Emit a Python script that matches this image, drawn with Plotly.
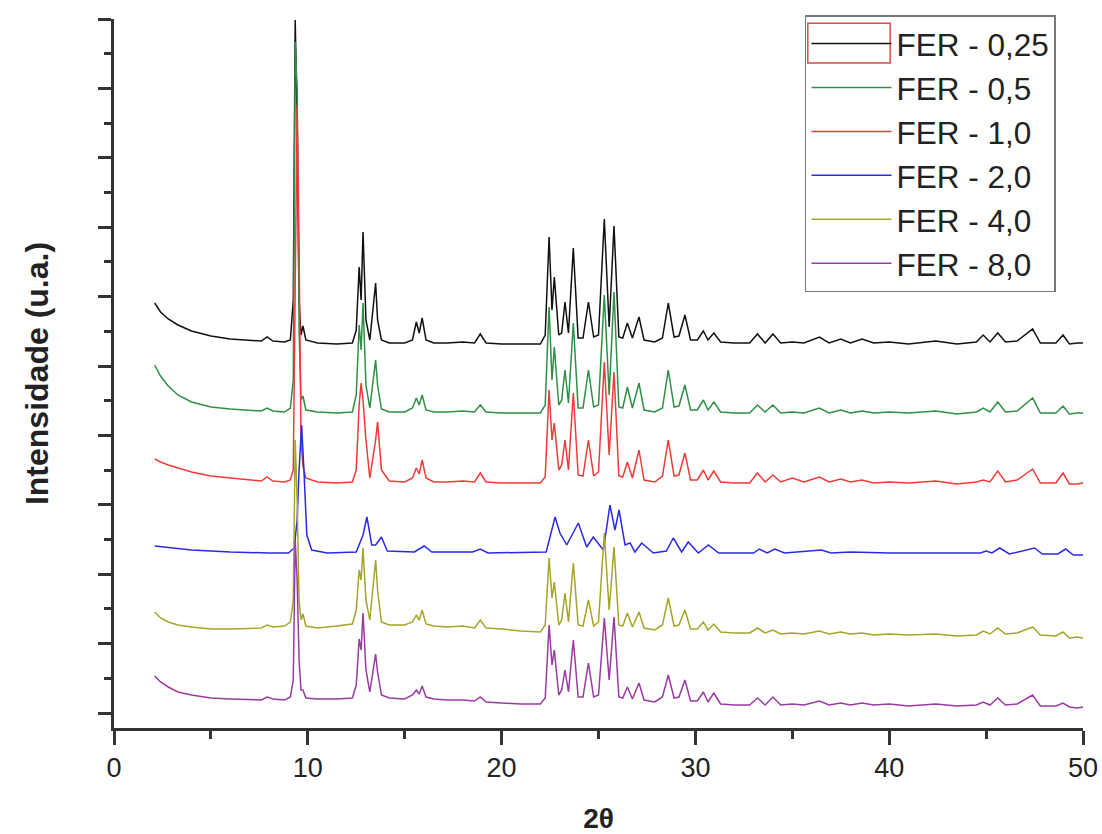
import plotly.graph_objects as go

# ---------------- data ----------------
series_names = ["FER - 0,25", "FER - 0,5", "FER - 1,0", "FER - 2,0", "FER - 4,0", "FER - 8,0"]

# shared 2θ grid for FER-0,25 / 0,5 / 1,0 / 4,0 / 8,0
two_theta = [
    2.1, 2.4, 2.8, 3.3, 4.0, 5.0, 6.0, 7.0, 7.6, 7.9, 8.2, 8.8, 9.1, 9.25, 9.35, 9.45, 9.55, 9.65, 9.75, 9.9,
    10.5, 11.5, 12.3, 12.5, 12.65, 12.75, 12.85, 13.0, 13.2, 13.5, 13.6, 13.8, 14.2, 15.0, 15.4, 15.6, 15.75, 15.9,
    16.1, 16.5, 17.2, 18.0, 18.6, 18.9, 19.2, 20.0, 21.0, 22.0, 22.25, 22.45, 22.6, 22.72, 22.95, 23.1, 23.27,
    23.45, 23.7, 23.95, 24.2, 24.48, 24.75, 25.0, 25.3, 25.55, 25.8, 26.05, 26.25, 26.49, 26.75, 27.09, 27.35,
    27.9, 28.3, 28.6, 28.9, 29.15, 29.46, 29.75, 30.1, 30.41, 30.65, 30.95, 31.3, 32.0, 32.8, 33.2, 33.6, 34.0,
    34.4, 35.0, 35.6, 36.4, 36.9, 37.5, 38.0, 38.6, 39.2, 40.0, 41.0, 42.4, 43.5, 44.5, 44.85, 45.2, 45.6, 46.0,
    46.6, 47.4, 47.8, 48.6, 48.97, 49.3, 49.7, 50.0,
]

fer_025 = [
    410, 401, 394, 388, 382, 377, 374, 373, 372, 376, 372, 371, 373, 413, 693, 593, 413, 378, 387, 373,
    370, 369, 370, 383, 446, 413, 481, 393, 373, 430, 393, 373, 370, 370, 373, 391, 380, 395,
    373, 370, 370, 371, 370, 379, 370, 369, 369, 369, 378, 476, 403, 436, 378, 380, 411,
    380, 465, 375, 375, 411, 376, 378, 494, 386, 487, 376, 375, 390, 375, 396, 373,
    371, 375, 410, 376, 377, 398, 373, 373, 382, 373, 380, 371, 370, 370, 379, 370, 379,
    370, 371, 370, 376, 370, 374, 370, 374, 370, 371, 369, 372, 369, 371, 378, 371, 380, 371,
    372, 384, 370, 370, 378, 369, 370, 370,
]

fer_05 = [
    348, 337, 327, 318, 311, 306, 304, 303, 302, 305, 302, 301, 305, 333, 671, 623, 383, 313, 317, 303,
    301, 300, 301, 318, 388, 363, 410, 328, 305, 353, 328, 304, 301, 301, 305, 315, 308, 318,
    303, 301, 301, 302, 301, 308, 301, 300, 300, 300, 308, 406, 333, 366, 308, 313, 343,
    310, 390, 305, 305, 343, 306, 308, 418, 318, 421, 306, 305, 326, 305, 330, 303,
    301, 305, 343, 306, 307, 328, 303, 303, 313, 303, 311, 301, 300, 300, 308, 301, 308,
    300, 301, 300, 305, 300, 303, 300, 302, 300, 301, 300, 302, 299, 301, 305, 301, 311, 301,
    302, 315, 300, 300, 307, 299, 300, 300,
]

fer_10 = [
    254, 251, 248, 245, 241, 237, 235, 233, 232, 236, 232, 231, 233, 243, 413, 608, 463, 273, 247, 235,
    231, 230, 231, 243, 308, 330, 313, 273, 235, 273, 291, 243, 232, 231, 235, 245, 239, 253,
    235, 231, 231, 232, 231, 240, 231, 230, 230, 230, 236, 323, 273, 290, 243, 248, 273,
    243, 320, 238, 237, 273, 237, 241, 351, 258, 341, 237, 236, 251, 235, 263, 233,
    231, 237, 273, 237, 238, 260, 233, 233, 243, 233, 242, 231, 230, 230, 240, 231, 238,
    231, 235, 231, 236, 231, 234, 231, 233, 230, 231, 230, 232, 229, 231, 233, 231, 242, 231,
    233, 244, 230, 230, 240, 229, 229, 230,
]

fer_40 = [
    101, 95, 91, 88, 86, 84, 84, 85, 85, 88, 86, 87, 91, 113, 273, 213, 113, 93, 99, 87,
    85, 87, 89, 103, 143, 133, 165, 113, 93, 153, 123, 91, 88, 88, 91, 98, 93, 103,
    89, 87, 86, 87, 85, 93, 85, 84, 82, 81, 88, 155, 115, 131, 88, 93, 120,
    91, 150, 88, 87, 113, 87, 91, 180, 103, 166, 88, 87, 100, 86, 101, 85,
    83, 88, 115, 87, 88, 103, 84, 84, 91, 83, 89, 81, 80, 80, 85, 80, 83,
    79, 80, 79, 82, 79, 81, 79, 80, 78, 79, 78, 79, 77, 78, 82, 79, 85, 79,
    80, 86, 78, 77, 81, 75, 76, 75,
]

fer_80 = [
    37, 31, 26, 21, 18, 15, 14, 13, 13, 16, 14, 13, 16, 33, 173, 133, 53, 23, 23, 15,
    14, 14, 15, 28, 74, 63, 100, 43, 21, 59, 41, 18, 15, 14, 18, 23, 19, 27,
    16, 14, 13, 13, 12, 16, 11, 10, 9, 9, 15, 88, 48, 63, 18, 23, 43,
    21, 73, 16, 16, 50, 16, 18, 95, 33, 96, 16, 15, 26, 14, 30, 13,
    11, 16, 38, 15, 16, 33, 12, 12, 21, 11, 20, 9, 8, 8, 15, 8, 16,
    8, 9, 8, 12, 8, 10, 8, 10, 8, 9, 7, 9, 7, 8, 11, 8, 15, 8,
    9, 18, 7, 7, 10, 6, 5, 6,
]

# FER-2,0 has broader, slightly shifted reflections -> own grid
two_theta_fer20 = [
    2.1, 2.5, 3.0, 4.0, 5.0, 6.0, 8.0, 9.0, 9.3, 9.45, 9.55, 9.68, 9.8, 9.95, 10.2, 11.0, 12.5, 12.85, 13.05,
    13.3, 13.5, 13.8, 14.1, 15.5, 16.0, 16.4, 18.5, 18.9, 19.3, 22.3, 22.55, 22.76, 23.01, 23.36, 23.96, 24.39,
    24.73, 25.25, 25.59, 25.85, 26.06, 26.37, 26.63, 26.88, 27.23, 27.83, 28.5, 28.86, 29.29, 29.63, 30.15,
    30.67, 31.2, 33.0, 33.3, 33.7, 34.1, 34.6, 36.5, 37.0, 38.0, 40.0, 42.5, 44.7, 45.0, 45.3, 45.7, 46.2,
    47.5, 47.9, 48.7, 49.1, 49.5, 50.0,
]
fer_20 = [
    167, 166, 165, 163, 162, 161, 160, 160, 165, 193, 243, 288, 243, 178, 163, 160, 161, 178, 196,
    168, 168, 176, 162, 161, 167, 161, 161, 164, 160, 161, 180, 196, 180, 168, 190, 166,
    176, 163, 208, 183, 203, 168, 170, 161, 170, 160, 162, 175, 161, 171, 160,
    168, 160, 160, 164, 160, 164, 160, 163, 160, 161, 160, 160, 160, 162, 160, 165, 159,
    165, 159, 159, 164, 158, 158,
]

colors = ["#111111", "#2f8f45", "#f03a3a", "#2a2ae6", "#a5a52a", "#9a3aa2"]

xs = [two_theta, two_theta, two_theta, two_theta_fer20, two_theta, two_theta]
ys = [fer_025, fer_05, fer_10, fer_20, fer_40, fer_80]

# ---------------- figure ----------------
fig = go.Figure()
for name, x, y, c in zip(series_names, xs, ys, colors):
    fig.add_trace(go.Scatter(x=x, y=y, mode="lines", name=name,
                             line=dict(color=c, width=1.5)))

axis_col = "#333333"
font_family = "Liberation Sans, Arial, sans-serif"

fig.update_layout(
    template="none",
    width=1102, height=834,
    margin=dict(l=114, r=19, t=19, b=106, autoexpand=False),
    paper_bgcolor="white", plot_bgcolor="white",
    font=dict(family=font_family, color="#222222"),
    showlegend=True,
    legend=dict(
        x=0.7131, y=1.0056, xanchor="left", yanchor="top",
        bgcolor="rgba(255,255,255,0)", bordercolor="#777777", borderwidth=1.5,
        font=dict(size=31.5, family=font_family, color="#222222"),
        itemwidth=80, tracegroupgap=0, entrywidth=170,
    ),
    xaxis=dict(
        range=[0, 50], tickmode="linear", tick0=0, dtick=10, automargin=False,
        showline=True, linecolor=axis_col, linewidth=3,
        ticks="outside", ticklen=14, tickwidth=2.5, tickcolor=axis_col,
        minor=dict(dtick=5, ticks="outside", ticklen=8, tickwidth=2.5, tickcolor=axis_col),
        showgrid=False, zeroline=False, mirror=False,
        tickfont=dict(size=27, family=font_family, color="#222222"),
        title=dict(text="<b>2θ</b>", font=dict(size=28, family=font_family, color="#222222"), standoff=28),
    ),
    yaxis=dict(
        range=[-15, 694], tickmode="linear", tick0=0, dtick=69.4, automargin=False,
        showline=True, linecolor=axis_col, linewidth=3,
        ticks="outside", ticklen=13, tickwidth=2.5, tickcolor=axis_col,
        minor=dict(dtick=34.7, ticks="outside", ticklen=7, tickwidth=2.5, tickcolor=axis_col),
        showticklabels=False, showgrid=False, zeroline=False, mirror=False,
        title=dict(text="<b>Intensidade (u.a.)</b>", font=dict(size=32, family=font_family, color="#222222"), standoff=40),
    ),
    shapes=[dict(type="rect", xref="paper", yref="paper", layer="above",
                 x0=0.716, x1=0.801, y0=0.938, y1=0.994,
                 line=dict(color="#e04848", width=1.5))],
)

fig.write_html("out.html")
